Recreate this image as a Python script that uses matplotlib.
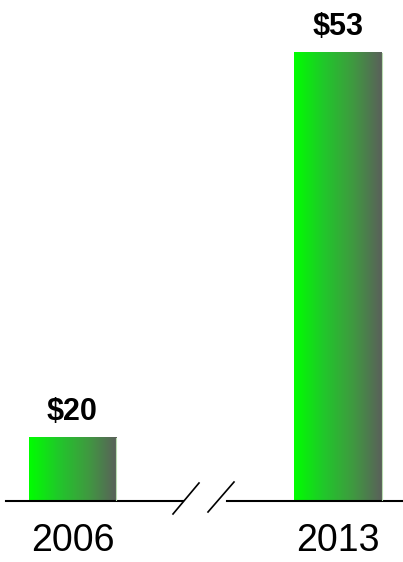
import matplotlib.pyplot as plt
import numpy as np
from matplotlib.colors import LinearSegmentedColormap

# chart data
years = ["2006", "2013"]
values = [20, 53]
labels = ["$20", "$53"]

plt.rcParams["font.family"] = ["Liberation Sans", "DejaVu Sans"]

W, H = 403, 562
fig = plt.figure(figsize=(W / 100, H / 100), dpi=100)
# axes runs from the baseline (y=501 px) to the top of the figure
ax = fig.add_axes([0, 61 / H, 1, 501 / H])

base = 14.6  # broken axis: the bars start here, not at zero
ax.set_xlim(-0.273, 1.245)
ax.set_ylim(base, 57.54)

grad_cmap = LinearSegmentedColormap.from_list(
    "bar_grad", ["#00ff00", "#20c82a", "#3f9a40", "#5a605a"]
)
gradient = np.linspace(0, 1, 256).reshape(1, -1)
width = 0.331

x = np.arange(len(years))
for xi, v, lab in zip(x, values, labels):
    x0, x1 = xi - width / 2, xi + width / 2
    ax.imshow(
        gradient,
        cmap=grad_cmap,
        extent=(x0, x1, base, v),
        aspect="auto",
        interpolation="bilinear",
        zorder=2,
    )
    # thin light edge on the right side of each bar
    ax.plot([x1, x1], [base, v], color="#b8dcb0", lw=0.8, zorder=3)
    ax.annotate(
        lab,
        xy=(xi, v),
        xytext=(0, 19),
        textcoords="offset points",
        ha="center",
        va="center",
        fontsize=22,
        fontweight="bold",
    )

ax.set_xticks(x)
ax.set_xticklabels(years, fontsize=27)
ax.tick_params(axis="x", length=0, pad=16)
ax.set_yticks([])
for s in ax.spines.values():
    s.set_visible(False)

# broken baseline with two slashes
tr = ax.transAxes
ax.plot([6 / W, 183 / W], [0, 0], color="black", lw=1.5, transform=tr, clip_on=False)
ax.plot([227 / W, 1], [0, 0], color="black", lw=1.5, transform=tr, clip_on=False)
for (px0, py0, px1, py1) in [(173, 514, 199, 483), (208, 512, 234, 482)]:
    ax.plot(
        [px0 / W, px1 / W],
        [(501 - py0) / 501, (501 - py1) / 501],
        color="black",
        lw=1.2,
        transform=tr,
        clip_on=False,
    )

fig.savefig("out.png", dpi=100)
